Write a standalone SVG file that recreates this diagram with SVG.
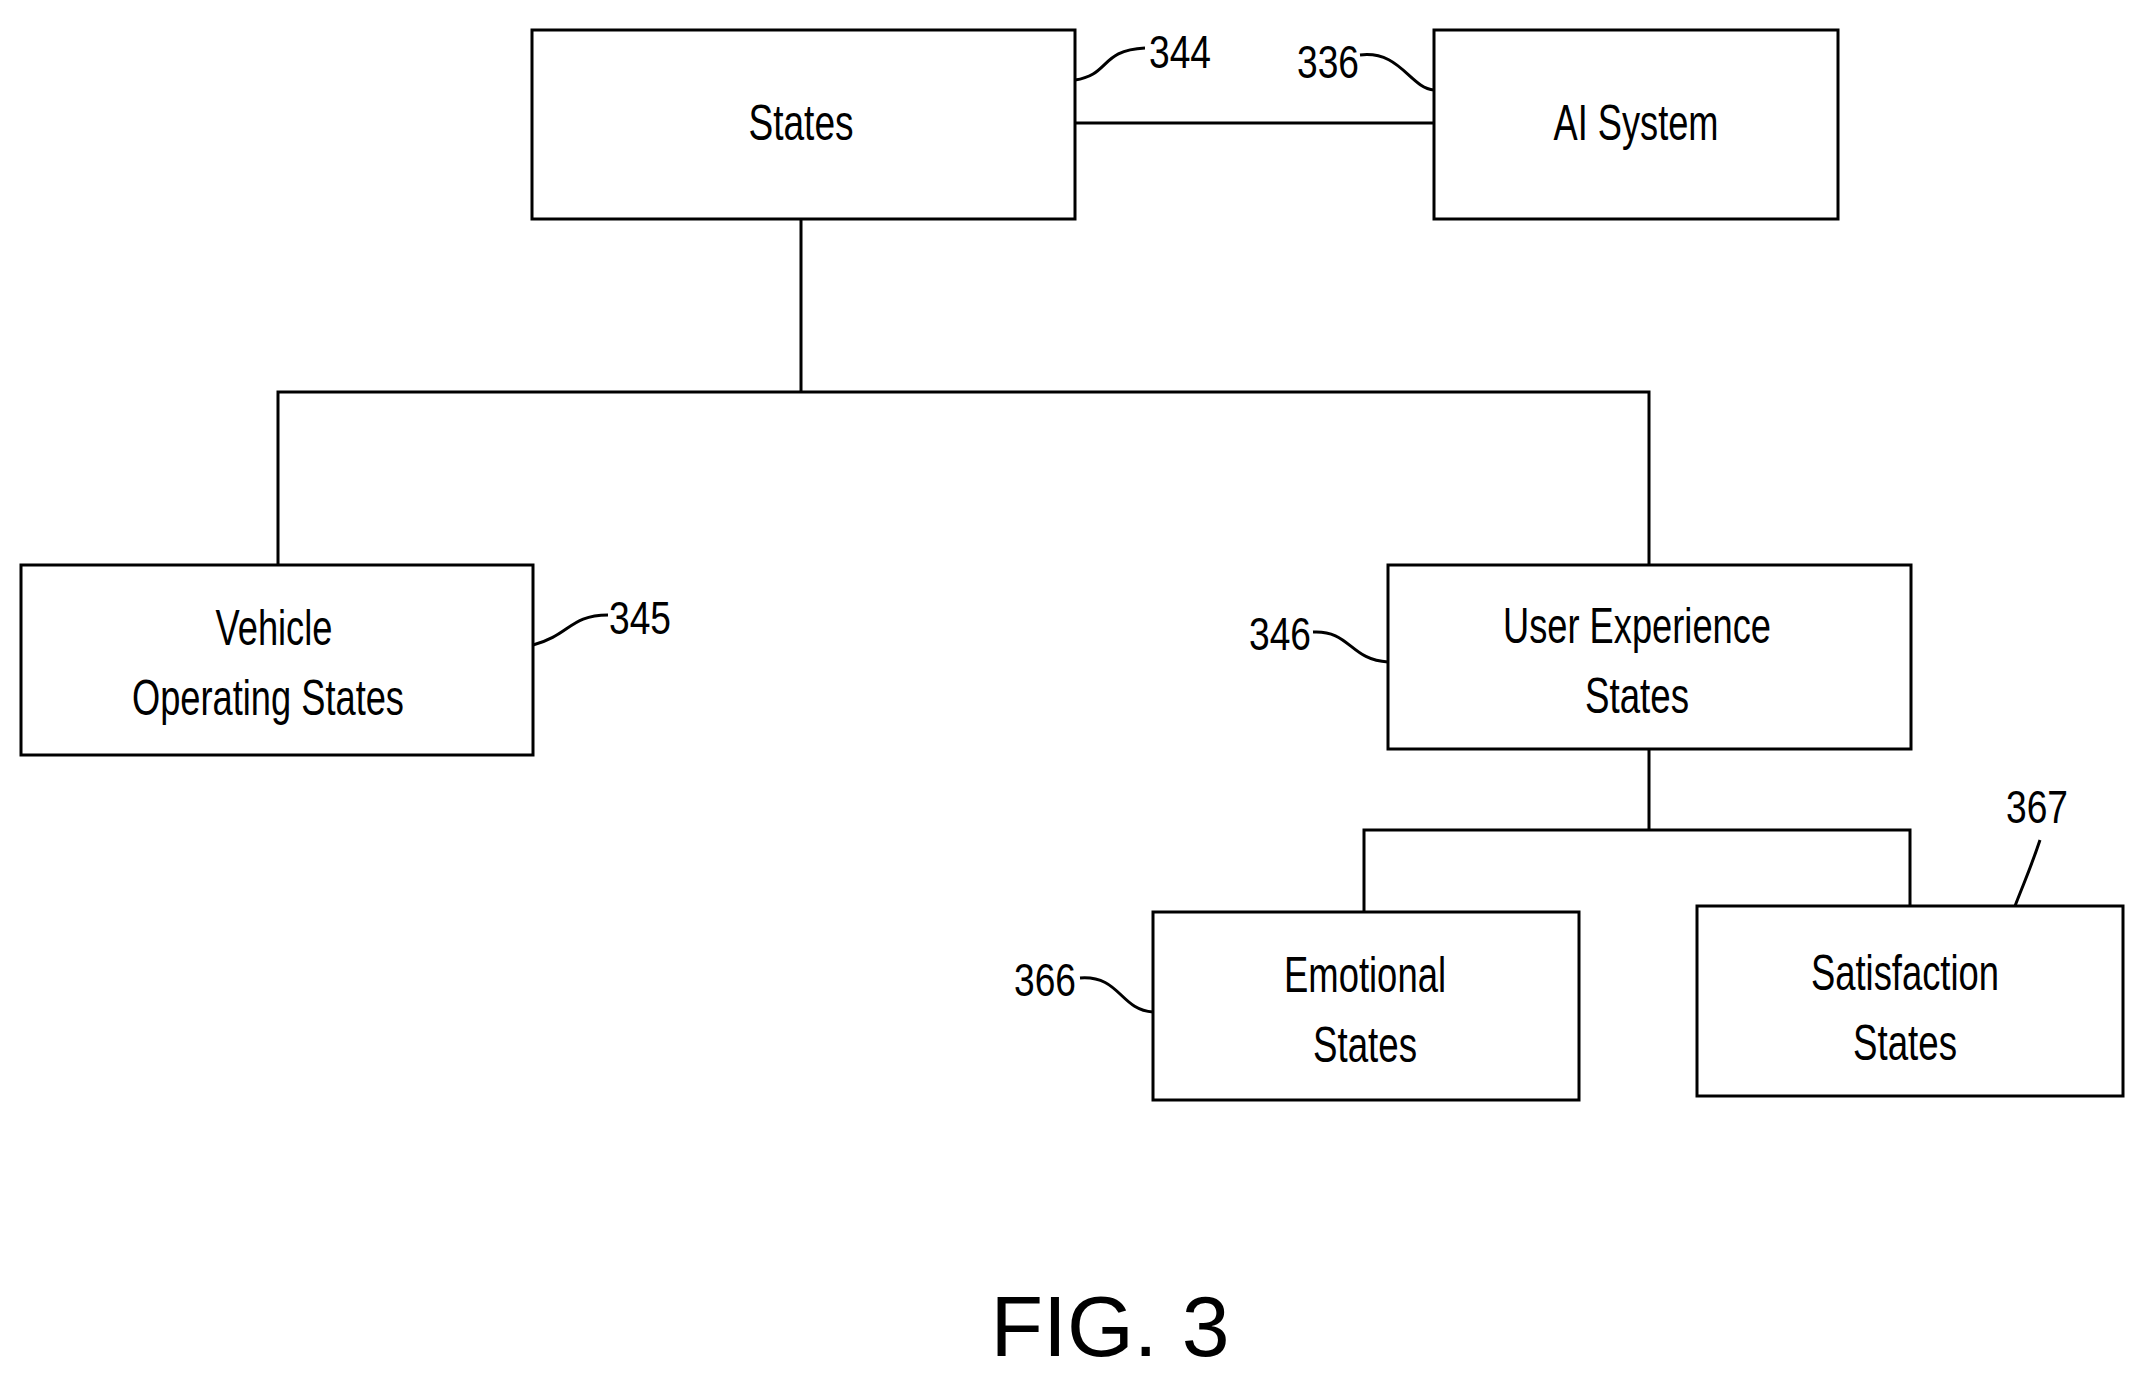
<svg xmlns="http://www.w3.org/2000/svg" width="2144" height="1385" viewBox="0 0 2144 1385">
<style>
.b{fill:#fff;stroke:#000;stroke-width:3}
.c{fill:none;stroke:#000;stroke-width:3}
.t{font-family:"Liberation Sans",Arial,sans-serif;font-size:50px;text-anchor:middle;fill:#000}
.n{font-family:"Liberation Sans",Arial,sans-serif;font-size:46px;text-anchor:middle;fill:#000}
</style>
<rect width="2144" height="1385" fill="#fff"/>
<g id="connectors">
<path class="c" d="M1075 123H1434M801 219V392M278 565V392H1649V565M1649 749V830M1364 912V830H1910V906"/>
<path class="c" d="M1075 80C1110 75 1100 50 1145 48M1360 55C1400 50 1410 88 1434 90M533 645C570 635 570 615 608 615M1313 632C1350 630 1350 660 1388 662M1080 978C1120 975 1120 1010 1153 1012M2040 840C2030 870 2025 880 2015 906"/>
</g>
<g id="states"><rect class="b" x="532" y="30" width="543" height="189"/><text class="t" x="801" y="140" textLength="105" lengthAdjust="spacingAndGlyphs">States</text></g>
<g id="ai"><rect class="b" x="1434" y="30" width="404" height="189"/><text class="t" x="1636" y="140" textLength="165" lengthAdjust="spacingAndGlyphs">AI System</text></g>
<g id="vehicle"><rect class="b" x="21" y="565" width="512" height="190"/><text class="t" x="274" y="645" textLength="117" lengthAdjust="spacingAndGlyphs">Vehicle</text><text class="t" x="268" y="715" textLength="272" lengthAdjust="spacingAndGlyphs">Operating States</text></g>
<g id="ux"><rect class="b" x="1388" y="565" width="523" height="184"/><text class="t" x="1637" y="643" textLength="268" lengthAdjust="spacingAndGlyphs">User Experience</text><text class="t" x="1637" y="713" textLength="104" lengthAdjust="spacingAndGlyphs">States</text></g>
<g id="emotional"><rect class="b" x="1153" y="912" width="426" height="188"/><text class="t" x="1365" y="992" textLength="162" lengthAdjust="spacingAndGlyphs">Emotional</text><text class="t" x="1365" y="1062" textLength="104" lengthAdjust="spacingAndGlyphs">States</text></g>
<g id="satisfaction"><rect class="b" x="1697" y="906" width="426" height="190"/><text class="t" x="1905" y="990" textLength="188" lengthAdjust="spacingAndGlyphs">Satisfaction</text><text class="t" x="1905" y="1060" textLength="104" lengthAdjust="spacingAndGlyphs">States</text></g>
<g id="labels">
<text class="n" x="1180" y="68" textLength="62" lengthAdjust="spacingAndGlyphs">344</text>
<text class="n" x="1328" y="78" textLength="62" lengthAdjust="spacingAndGlyphs">336</text>
<text class="n" x="640" y="634" textLength="62" lengthAdjust="spacingAndGlyphs">345</text>
<text class="n" x="1280" y="650" textLength="62" lengthAdjust="spacingAndGlyphs">346</text>
<text class="n" x="1045" y="996" textLength="62" lengthAdjust="spacingAndGlyphs">366</text>
<text class="n" x="2037" y="823" textLength="62" lengthAdjust="spacingAndGlyphs">367</text>
<text class="t" x="1110" y="1356" style="font-size:86px">FIG. 3</text>
</g>
</svg>
